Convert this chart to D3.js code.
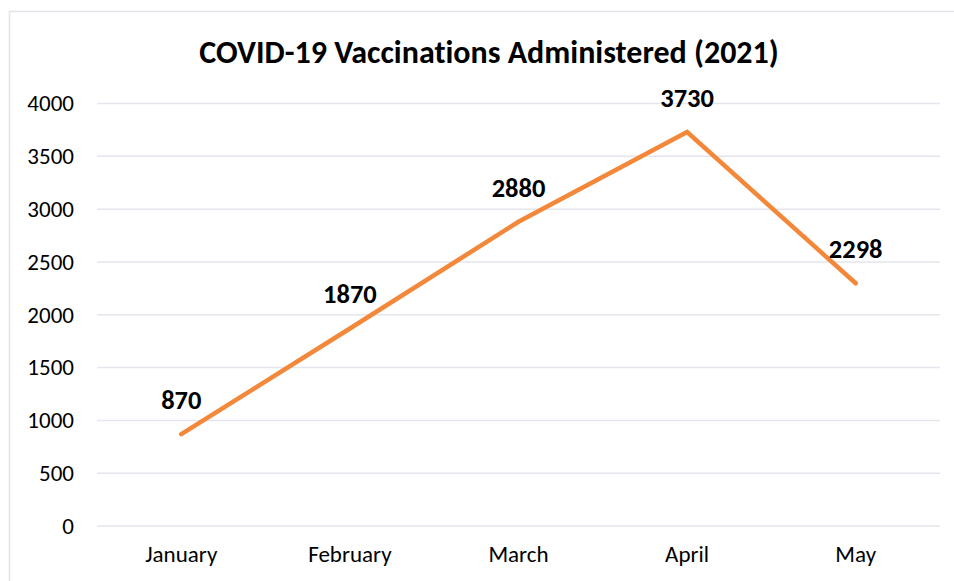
<!DOCTYPE html>
<html><head><meta charset="utf-8">
<script src="https://cdn.jsdelivr.net/npm/d3@7"></script>
<style>body{margin:0;background:#fff}svg{display:block}text{font-variant-ligatures:none;font-feature-settings:"liga" 0,"clig" 0}</style>
</head><body>
<svg id="c" width="954" height="581"></svg>
<script>
const categories = ["January","February","March","April","May"];
const values = [870,1870,2880,3730,2298];
const yTicks = [0,500,1000,1500,2000,2500,3000,3500,4000];
const title = "COVID-19 Vaccinations Administered (2021)";

(function(){
const svg = d3.select("#c");
const W = 954, H = 581;
const mLeft = 97, mRight = 940, mTop = 103.5, mBottom = 526;
const font = "Carlito, Calibri, 'Open Sans', sans-serif";

svg.append("rect").attr("x",9.5).attr("y",11.5).attr("width",W).attr("height",H)
  .attr("fill","#fff").attr("stroke","#e3e3ea").attr("stroke-width",1.5);

const x = d3.scaleBand().domain(categories).range([mLeft,mRight]);
const y = d3.scaleLinear().domain([0,4000]).range([mBottom,mTop]);

svg.append("g").selectAll("line").data(yTicks).join("line")
  .attr("x1",mLeft).attr("x2",mRight)
  .attr("y1",d=>y(d)).attr("y2",d=>y(d))
  .attr("stroke","#e5e5ee").attr("stroke-width",1.5);

const ya = svg.append("g").attr("transform",`translate(${mLeft},0)`)
  .call(d3.axisLeft(y).tickValues(yTicks).tickFormat(d3.format("d")).tickSize(0).tickPadding(23));
ya.select(".domain").remove();
ya.selectAll("text").attr("font-family",font).attr("font-size",23).attr("fill","#000");

const xa = svg.append("g").attr("transform",`translate(0,${mBottom})`)
  .call(d3.axisBottom(x).tickSize(0).tickPadding(20));
xa.select(".domain").remove();
xa.selectAll("text").attr("font-family",font).attr("font-size",23).attr("fill","#000");

const cx = d => x(d) + x.bandwidth()/2;
svg.append("path").datum(values)
  .attr("d", d3.line().x((d,i)=>cx(categories[i])).y(d=>y(d)))
  .attr("fill","none").attr("stroke","#f3883a").attr("stroke-width",4.5)
  .attr("stroke-linecap","round").attr("stroke-linejoin","miter");

svg.append("g").selectAll("text").data(values).join("text")
  .attr("x",(d,i)=>cx(categories[i]))
  .attr("y",d=>y(d)-25)
  .attr("text-anchor","middle")
  .attr("font-family",font).attr("font-weight","bold").attr("font-size",26.5)
  .attr("fill","#000").text(d=>d);

svg.append("text").attr("x",489).attr("y",63).attr("text-anchor","middle")
  .attr("font-family",font).attr("font-weight","bold").attr("font-size",32)
  .attr("fill","#000").text(title);
})();
</script>
</body></html>
